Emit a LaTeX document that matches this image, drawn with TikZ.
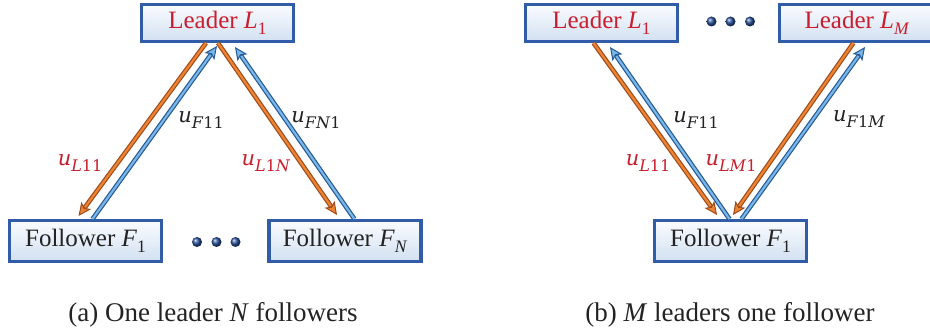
\documentclass[tikz,border=0pt]{standalone}
\usepackage{fontspec}
\usepackage{graphicx}
\setmainfont{Liberation Serif}
\newfontfamily\labfont{DejaVu Serif}
\usetikzlibrary{arrows.meta,shadings}

\definecolor{boxedge}{RGB}{48,92,168}
\definecolor{boxtop}{RGB}{250,252,255}
\definecolor{boxbot}{RGB}{210,224,241}
\definecolor{leadred}{RGB}{200,30,45}
\definecolor{textdark}{RGB}{35,35,35}
\definecolor{ofill}{RGB}{236,132,52}
\definecolor{oedge}{RGB}{160,76,26}
\definecolor{bfill}{RGB}{122,182,230}
\definecolor{bedge}{RGB}{36,90,150}
\definecolor{dotblue}{RGB}{40,80,155}

% lowered, reduced index set in the text font
\newcommand\lowidx[1]{\raisebox{-0.24em}{\scalebox{0.7}{#1}}}
\newcommand\labidx[1]{\raisebox{-0.3em}{\scalebox{0.76}{#1}}}

\tikzset{
  agent/.style={draw=boxedge, line width=3.4pt, top color=boxtop, bottom color=boxbot,
    minimum width=152pt, inner sep=0pt, font=\fontsize{25}{30}\selectfont},
  leadbox/.style={agent, minimum height=36.6pt, text=leadred},
  follbox/.style={agent, minimum height=40.6pt, text=textdark},
  wide/.style={minimum width=155pt},
  ball/.style={circle, minimum size=10pt, inner sep=0pt, ball color=dotblue},
  orangearrow/.style={draw=oedge, line width=4.6pt,
    -{Stealth[length=13pt, width=12pt, inset=3pt, fill=ofill, line width=1pt]},
    postaction={draw=ofill, line width=2.2pt, -, shorten >=11pt}},
  bluearrow/.style={draw=bedge, line width=4.6pt,
    -{Stealth[length=13pt, width=12pt, inset=3pt, fill=bfill, line width=1pt]},
    postaction={draw=bfill, line width=2.2pt, -, shorten >=11pt}},
  lab/.style={font=\labfont\fontsize{21}{25}\selectfont, inner sep=0pt},
  redlab/.style={lab, text=leadred},
  graylab/.style={lab, text=textdark},
  caption/.style={font=\fontsize{27}{32}\selectfont, anchor=base, text=textdark}
}

\begin{document}
\begin{tikzpicture}[x=1pt, y=1pt]
\useasboundingbox (0,0) rectangle (930,-336);

% ---------- (a) one leader, N followers ----------
\node[leadbox] (aL1) at (217.5,-23) {Leader \textit{L}\lowidx{1}};
\node[follbox] (aF1) at (85.5,-241) {Follower \textit{F}\lowidx{1}};
\node[follbox] (aFN) at (345,-241) {Follower \textit{F}\lowidx{\textit{N}}};
\node[ball] (ad1) at (197,-242) {};
\node[ball] (ad2) at (216.5,-242) {};
\node[ball] (ad3) at (235.5,-242) {};

\coordinate (aL11s) at ([xshift=-11.5pt]aL1.south);
\coordinate (aL11e) at ([xshift=-7pt,yshift=3pt]aF1.north);
\coordinate (aF11s) at ([xshift=7pt]aF1.north);
\coordinate (aF11e) at ([xshift=-0.5pt,yshift=-3pt]aL1.south);
\coordinate (aL1Ns) at ([xshift=0.5pt]aL1.south);
\coordinate (aL1Ne) at ([xshift=-8pt,yshift=4pt]aFN.north);
\coordinate (aFN1s) at ([xshift=9.4pt]aFN.north);
\coordinate (aFN1e) at ([xshift=17.5pt,yshift=-4pt]aL1.south);

\draw[orangearrow] (aL11s) -- (aL11e);
\draw[bluearrow] (aF11s) -- (aF11e);
\draw[orangearrow] (aL1Ns) -- (aL1Ne);
\draw[bluearrow] (aFN1s) -- (aFN1e);

\node[graylab] (auF11) at (201,-120) {\textit{u}\labidx{\textit{F}11}};
\node[redlab] (auL11) at (80,-163) {\textit{u}\labidx{\textit{L}11}};
\node[redlab] (auL1N) at (266,-163) {\textit{u}\labidx{\textit{L}1\textit{N}}};
\node[graylab] (auFN1) at (316,-120) {\textit{u}\labidx{\textit{FN}1}};

\node[caption] (capa) at (213,-322) {(a) One leader \textit{N} followers};

% ---------- (b) M leaders, one follower ----------
\node[leadbox] (bL1) at (601.5,-23) {Leader \textit{L}\lowidx{1}};
\node[leadbox, wide] (bLM) at (857,-23) {Leader \textit{L}\lowidx{\textit{M}}};
\node[follbox] (bF1) at (730.5,-241) {Follower \textit{F}\lowidx{1}};
\node[ball] (bd1) at (711.5,-21.5) {};
\node[ball] (bd2) at (730.5,-21.5) {};
\node[ball] (bd3) at (750,-21.5) {};

\coordinate (bL11s) at ([xshift=-8pt]bL1.south);
\coordinate (bL11e) at ([xshift=-13.5pt,yshift=4pt]bF1.north);
\coordinate (bF11s) at ([xshift=-1pt]bF1.north);
\coordinate (bF11e) at ([xshift=8.5pt,yshift=-4pt]bL1.south);
\coordinate (bLM1s) at ([xshift=-3.6pt]bLM.south);
\coordinate (bLM1e) at ([xshift=2.5pt,yshift=4pt]bF1.north);
\coordinate (bF1Ms) at ([xshift=11pt]bF1.north);
\coordinate (bF1Me) at ([xshift=8pt,yshift=-4pt]bLM.south);

\draw[orangearrow] (bL11s) -- (bL11e);
\draw[bluearrow] (bF11s) -- (bF11e);
\draw[orangearrow] (bLM1s) -- (bLM1e);
\draw[bluearrow] (bF1Ms) -- (bF1Me);

\node[graylab] (buF11) at (696,-120) {\textit{u}\labidx{\textit{F}11}};
\node[redlab] (buL11) at (648,-163) {\textit{u}\labidx{\textit{L}11}};
\node[redlab] (buLM1) at (731,-163) {\textit{u}\labidx{\textit{LM}1}};
\node[graylab] (buF1M) at (859,-119) {\textit{u}\labidx{\textit{F}1\textit{M}}};

\node[caption] (capb) at (730,-322) {(b) \textit{M} leaders one follower};
\end{tikzpicture}
\end{document}
